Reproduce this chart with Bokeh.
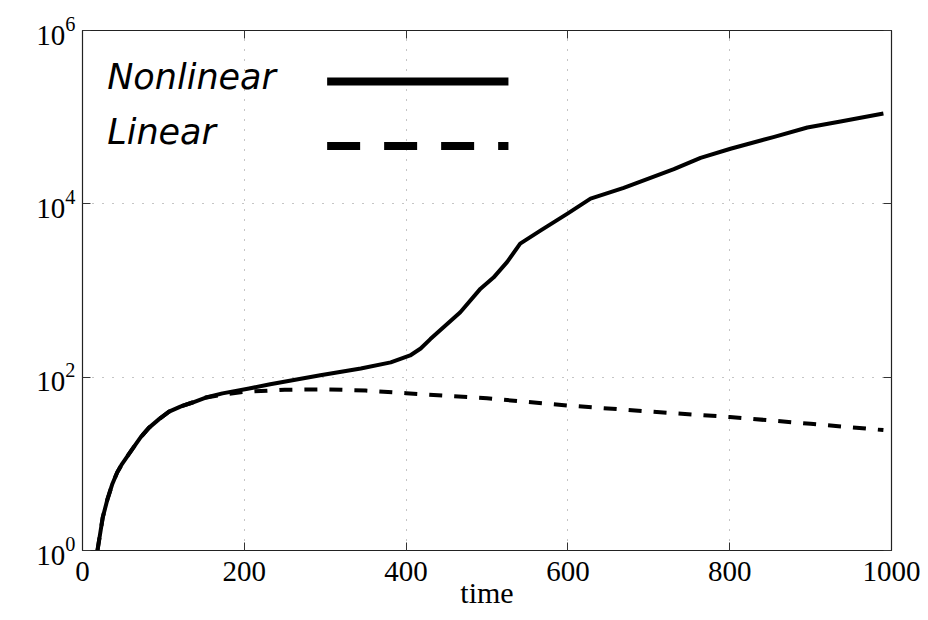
from bokeh.plotting import figure
from bokeh.models import FixedTicker, LinearAxis, LogAxis, Label
from bokeh.embed import file_html
from bokeh.resources import INLINE

# ---- data ----
time_nonlinear = [18.5, 25, 31, 37, 43, 49, 62, 72, 82, 95, 107, 121, 136, 154, 173, 206, 232,
                  294, 344, 381, 405, 418, 430, 467, 492, 508, 525, 541, 566, 600, 628, 669,
                  731, 764, 801, 854, 896, 937, 990]
value_nonlinear = [1.0, 2.4, 3.95, 5.9, 8.0, 10, 15, 20.3, 26, 33, 40, 45.8, 51, 58.7, 65, 74,
                   83, 105, 126, 148, 178, 214, 275, 562, 1050, 1410, 2140, 3470, 4900, 7760,
                   11500, 15300, 25100, 33900, 43200, 58900, 75900, 89100, 110000]

time_linear = [18.5, 25, 31, 37, 43, 49, 62, 72, 82, 95, 107, 121, 136, 150, 173, 200, 250,
               300, 350, 400, 500, 600, 700, 800, 900, 990]
value_linear = [1.0, 2.4, 3.95, 5.9, 8.0, 10, 15, 20.3, 26, 33, 40, 45.8, 51, 57.5, 63, 67.6,
                71.6, 72.4, 70, 65.3, 57.1, 47.1, 40.2, 34.7, 29.0, 24.5]

x_ticks = [0, 200, 400, 600, 800, 1000]
y_ticks = [1, 1e2, 1e4, 1e6]
series_names = ["Nonlinear", "Linear"]
x_label = "time"

# ---- figure ----
p = figure(width=920, height=612, y_axis_type="log", x_range=(0, 1000), y_range=(1, 1e6),
           output_backend="svg", toolbar_location=None,
           min_border_left=82, min_border_right=29, min_border_top=30, min_border_bottom=62)
p.background_fill_color = "white"
p.border_fill_color = "white"
p.outline_line_color = "#222222"
p.outline_line_width = 1.2

p.add_layout(LinearAxis(), "above")
p.add_layout(LogAxis(), "right")

for ax in p.xaxis:
    ax.ticker = FixedTicker(ticks=x_ticks)
for ax in p.yaxis:
    ax.ticker = FixedTicker(ticks=y_ticks)

for ax in list(p.xaxis) + list(p.yaxis):
    ax.major_tick_in = 8
    ax.major_tick_out = 0
    ax.minor_tick_line_color = None
    ax.major_tick_line_color = "#333333"
    ax.axis_line_color = "#222222"
    ax.major_label_text_font = "Liberation Serif"
    ax.major_label_text_font_size = "29px"
    ax.major_label_text_color = "black"

p.below[0].major_label_standoff = 11
p.below[0].axis_label = x_label
p.below[0].axis_label_text_font = "Liberation Serif"
p.below[0].axis_label_text_font_size = "30px"
p.below[0].axis_label_text_font_style = "normal"
p.below[0].axis_label_text_color = "black"
p.below[0].axis_label_standoff = -8
p.left[0].major_label_standoff = 7
for ax in (p.above[0], p.right[0]):
    ax.major_label_text_font_size = "1px"
    ax.major_label_text_color = None
    ax.major_label_standoff = 0

p.xgrid.ticker = FixedTicker(ticks=x_ticks)
p.ygrid.ticker = FixedTicker(ticks=y_ticks)
for g in (p.xgrid, p.ygrid):
    g.grid_line_color = "#8a8a8a"
    g.grid_line_dash = "1 9"
    g.grid_line_width = 1

# ---- series ----
p.line(time_linear, value_linear, line_width=4, line_color="black", line_dash="13 12",
       line_join="round")
p.line(time_nonlinear, value_nonlinear, line_width=4, line_color="black", line_join="round")

# ---- legend (drawn manually: label left, sample right) ----
leg_x0, leg_x1 = 302.4, 526.5
leg_y = [10 ** 5.411, 10 ** 4.667]
p.line([leg_x0, leg_x1], [leg_y[0], leg_y[0]], line_width=8, line_color="black", line_cap="butt")
p.line([leg_x0, leg_x1], [leg_y[1], leg_y[1]], line_width=8, line_color="black",
       line_cap="butt", line_dash="33 24")
for name, yy in zip(series_names, [10 ** 5.461, 10 ** 4.826]):
    p.add_layout(Label(x=30.5, y=yy, text=name, text_font="DejaVu Sans", text_font_style="italic",
                       text_font_size="35px", text_color="black", text_baseline="alphabetic"))

open("out.html", "w").write(file_html(p, INLINE))
